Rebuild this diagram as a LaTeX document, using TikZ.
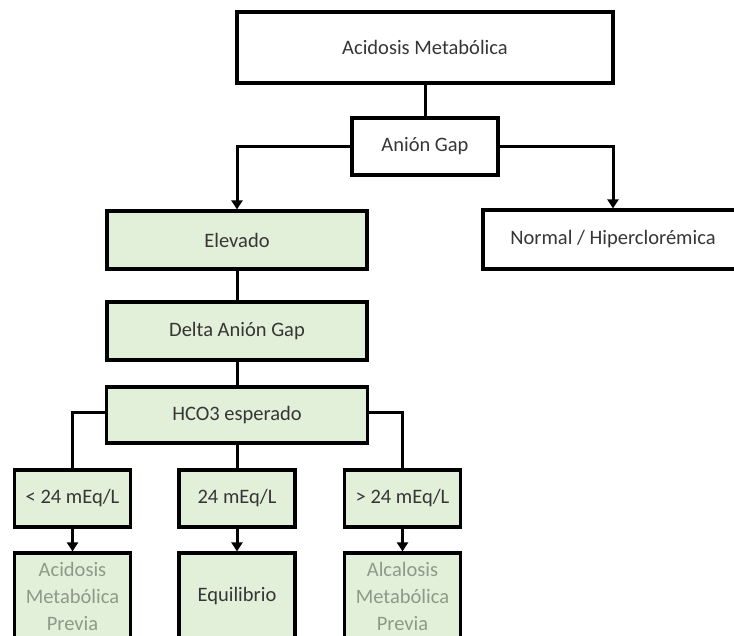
\documentclass[tikz,border=0pt]{standalone}
\usepackage{fontspec}
\setmainfont{Carlito}
\usetikzlibrary{arrows.meta}
\definecolor{boxgreen}{HTML}{E2EFD9}
\definecolor{txt}{HTML}{363636}
\definecolor{softtxt}{HTML}{8E9A88}
\tikzset{
  box/.style={draw=black, line width=3.2pt, rectangle, align=center,
    text=txt, font=\fontsize{20.5}{27}\selectfont, inner sep=2pt},
  plainbox/.style={box, fill=white},
  greenbox/.style={box, fill=boxgreen},
  link/.style={line width=3pt, draw=black},
  arr/.style={link, -{Triangle[width=11pt,length=9pt]}},
}
\begin{document}
\begin{tikzpicture}[x=1pt,y=-1pt]
  \useasboundingbox (0,0) rectangle (734,636);
  \clip (0,0) rectangle (734,636);

  % main levels
  \node[plainbox, minimum width=376pt, minimum height=71pt] (top) at (425,47.5) {Acidosis Metabólica};
  \node[plainbox, minimum width=146pt, minimum height=57pt] (ag) at (425,146.5) {Anión Gap};
  \node[greenbox, minimum width=260pt, minimum height=58pt] (elev) at (237,240) {Elevado};
  \node[plainbox, minimum width=260pt, minimum height=59pt] (norm) at (613,239.5) {Normal / Hiperclorémica};
  \node[greenbox, minimum width=260pt, minimum height=58pt] (delta) at (237,331) {Delta Anión Gap};
  \node[greenbox, minimum width=261pt, minimum height=56pt] (hco) at (237,415) {HCO3 esperado};

  % HCO3 ranges
  \node[greenbox, minimum width=116pt, minimum height=57pt] (lt) at (72.5,498.5) {< 24 mEq/L};
  \node[greenbox, minimum width=116pt, minimum height=57pt] (eq24) at (237,498.5) {24 mEq/L};
  \node[greenbox, minimum width=116pt, minimum height=57pt] (gt) at (402.5,498.5) {> 24 mEq/L};

  % outcomes
  \node[greenbox, minimum width=116pt, minimum height=86pt, text=softtxt] (acid) at (72.5,596) {Acidosis\\Metabólica\\Previa};
  \node[greenbox, minimum width=116pt, minimum height=86pt] (equi) at (237,596) {Equilibrio};
  \node[greenbox, minimum width=116pt, minimum height=86pt, text=softtxt] (alca) at (402.5,596) {Alcalosis\\Metabólica\\Previa};

  % connectors
  \draw[link] (top) -- (ag);
  \draw[arr] (ag.west) -| (elev);
  \draw[arr] (ag.east) -| (norm);
  \draw[link] (elev) -- (delta);
  \draw[link] (delta) -- (hco);
  \draw[link] ([yshift=3pt]hco.west) -| (lt);
  \draw[link] (hco) -- (eq24);
  \draw[link] ([yshift=3pt]hco.east) -| (gt);
  \draw[arr] (lt) -- (acid);
  \draw[arr] (eq24) -- (equi);
  \draw[arr] (gt) -- (alca);
\end{tikzpicture}
\end{document}
